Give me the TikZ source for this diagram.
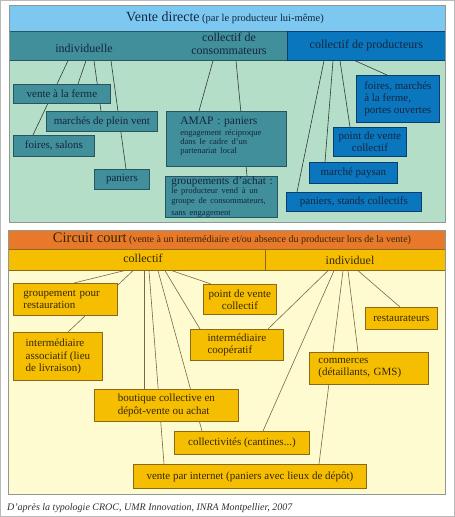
\documentclass[tikz,border=0pt]{standalone}
\usepackage{fontspec}
\setmainfont{Liberation Serif}
\pgfdeclarelayer{bg}\pgfdeclarelayer{mid}\pgfsetlayers{bg,mid,main}
\definecolor{ltblue}{RGB}{125,200,240}
\definecolor{tealc}{RGB}{64,143,155}
\definecolor{tealdark}{RGB}{40,85,95}
\definecolor{bluec}{RGB}{10,118,190}
\definecolor{bluedark}{RGB}{10,60,110}
\definecolor{greenbody}{RGB}{180,222,200}
\definecolor{orangec}{RGB}{232,120,42}
\definecolor{yellowc}{RGB}{245,190,0}
\definecolor{yellowbody}{RGB}{255,251,208}
\definecolor{browndark}{RGB}{140,105,25}
\definecolor{textnavy}{RGB}{22,38,62}
\definecolor{textbrown}{RGB}{55,40,5}
\definecolor{conTop}{RGB}{45,60,60}
\definecolor{conBot}{RGB}{120,105,70}
\definecolor{panelgray}{RGB}{145,150,150}
\definecolor{captiongray}{RGB}{50,50,50}
\begin{document}
\begin{tikzpicture}[x=1pt,y=-1pt,
  box/.style={draw, line width=0.8pt, inner sep=0pt, anchor=north west, font=\fontsize{11}{12.3}\selectfont},
  tbox/.style={box, fill=tealc, draw=tealdark, text=textnavy},
  bbox/.style={box, fill=bluec, draw=bluedark, text=textnavy},
  ybox/.style={box, fill=yellowc, draw=browndark, text=textbrown},
  hcell/.style={anchor=north west, inner sep=0pt, line width=0.7pt},
  htext/.style={inner sep=0pt, font=\fontsize{12}{13}\selectfont},
  tcon/.style={draw=conTop, line width=0.6pt},
  ycon/.style={draw=conBot, line width=0.6pt},
  panelline/.style={draw=panelgray, line width=0.9pt}]
\useasboundingbox (0,0) rectangle (455,517);
\begin{pgfonlayer}{bg}
  \fill[white] (0,0) rectangle (455,517);
  \draw[gray!55, line width=0.8pt] (0.5,0.5) rectangle (454.5,516.5);
  \fill[greenbody] (9,60) rectangle (445,222);
  \fill[ltblue] (9,5) rectangle (445,31);
  \fill[yellowbody] (8,270) rectangle (445,494);
  \fill[orangec] (8,230) rectangle (445,249);
\end{pgfonlayer}

% ---------- top panel ----------
\node[inner sep=0pt, text=textnavy] (title1) at (225,18)
  {{\fontsize{14}{16}\selectfont Vente directe} {\fontsize{10.5}{12}\selectfont (par le producteur lui-même)}};
\node[hcell, fill=tealc, draw=tealdark, minimum width=278pt, minimum height=29pt] (hT) at (9,31) {};
\node[hcell, fill=bluec, draw=bluedark, minimum width=158pt, minimum height=29pt,
      font=\fontsize{12}{13}\selectfont, text=textnavy] (hB) at (287,31) {collectif de producteurs};
\node[htext, text=textnavy] (tInd) at (84,48) {individuelle};
\node[htext, text=textnavy, align=center] (tCons) at (229,44) {collectif de\\consommateurs};

\node[tbox, minimum width=97pt, minimum height=19pt] (vf) at (13,84) {vente à la ferme};
\node[tbox, minimum width=111pt, minimum height=20pt] (mp) at (46,111) {marchés de plein vent};
\node[tbox, minimum width=81pt, minimum height=21pt] (fs) at (13,135) {foires, salons};
\node[tbox, minimum width=55pt, minimum height=20pt] (pa) at (94,169) {paniers};
\node[tbox, minimum height=55pt, text width=92pt, inner xsep=14pt, align=left] (amap) at (166,111)
  {{\fontsize{11.5}{13}\selectfont AMAP : paniers\par}\vspace{1pt}\fontsize{8.5}{9.3}\selectfont engagement réciproque\\dans le cadre d’un\\partenariat local\par\vspace{5pt}};
\node[tbox, minimum height=41pt, text width=108pt, inner xsep=2pt, align=left] (ga) at (165,176)
  {\hspace*{4pt}{\fontsize{11.2}{11.5}\selectfont groupements d’achat :\par}\fontsize{8.5}{9.3}\selectfont \hspace*{4pt}le producteur vend à un\\\hspace*{4pt}groupe de consommateurs,\\\hspace*{4pt}sans engagement};
\node[bbox, minimum width=83pt, minimum height=47pt, align=left, font=\fontsize{11}{12}\selectfont] (fm) at (356,75)
  {foires, marchés\\à la ferme,\\portes ouvertes};
\node[bbox, minimum width=73pt, minimum height=29pt, align=center, font=\fontsize{11}{12}\selectfont] (pv) at (333,127) {point de vente\\collectif};
\node[bbox, minimum width=88pt, minimum height=21pt] (mpy) at (309,162) {marché paysan};
\node[bbox, minimum width=135pt, minimum height=19pt] (psc) at (286,192) {paniers, stands collectifs};

\begin{pgfonlayer}{mid}
  \draw[tcon] ([xshift=59pt]hT.south west) -- ([xshift=20pt]fs.north west);
  \draw[tcon] ([xshift=77pt]hT.south west) -- ([xshift=65pt]vf.north west);
  \draw[tcon] ([xshift=85pt]hT.south west) -- ([xshift=55pt]mp.north west);
  \draw[tcon] ([xshift=102pt]hT.south west) -- ([xshift=32pt]pa.north west);
  \draw[tcon] ([xshift=204pt]hT.south west) -- ([xshift=33pt]amap.north west);
  \draw[tcon] ([xshift=227pt]hT.south west) -- ([xshift=82pt]ga.north west);
  \draw[tcon] ([xshift=68pt]hB.south west) -- ([xshift=31pt]fm.north west);
  \draw[tcon] ([xshift=53pt]hB.south west) -- ([xshift=17pt]pv.north west);
  \draw[tcon] ([xshift=46pt]hB.south west) -- ([xshift=16pt]mpy.north west);
  \draw[tcon] ([xshift=37pt]hB.south west) -- ([xshift=11pt]psc.north west);
\end{pgfonlayer}
\draw[panelline] (9,5) rectangle (445,222);

% ---------- bottom panel ----------
\node[inner sep=0pt, text=textbrown] (title2) at (232,239)
  {{\fontsize{14.5}{16}\selectfont Circuit court} {\fontsize{10}{12}\selectfont (vente à un intermédiaire et/ou absence du producteur lors de la vente)}};
\node[hcell, fill=yellowc, draw=browndark, minimum width=257pt, minimum height=21pt] (hC) at (8,249) {};
\node[hcell, fill=yellowc, draw=browndark, minimum width=180pt, minimum height=21pt] (hI) at (265,249) {};
\node[htext, text=textbrown] (tCol) at (143,258) {collectif};
\node[htext, text=textbrown] (tIndv) at (350,260) {individuel};

\node[ybox, minimum height=32pt, text width=84pt, inner xsep=10pt, align=left] (gr) at (13,283) {groupement pour\\restauration};
\node[ybox, minimum width=89pt, minimum height=48pt, align=left] (ia) at (13,332) {intermédiaire\\associatif (lieu\\de livraison)};
\node[ybox, minimum width=73pt, minimum height=30pt, align=center] (pvc) at (203,284) {point de vente\\collectif};
\node[ybox, minimum width=93pt, minimum height=31pt, align=left] (ic) at (190,329) {intermédiaire\\coopératif};
\node[ybox, minimum width=72pt, minimum height=22pt] (re) at (365,307) {restaurateurs};
\node[ybox, minimum height=32pt, text width=101pt, inner xsep=9pt, align=left] (co) at (309,352) {commerces\\(détaillants, GMS)};
\node[ybox, minimum width=144pt, minimum height=32pt, align=left] (bo) at (94,389) {boutique collective en\\dépôt-vente ou achat};
\node[ybox, minimum width=135pt, minimum height=23pt] (cl) at (174,431) {collectivités (cantines...)};
\node[ybox, minimum width=233pt, minimum height=24pt] (vi) at (133,464) {vente par internet (paniers avec lieux de dépôt)};

\begin{pgfonlayer}{mid}
  \draw[ycon] ([xshift=116pt]hC.south west) -- ([xshift=61pt]gr.north west);
  \draw[ycon] ([xshift=125pt]hC.south west) -- ([xshift=55pt]ia.north west);
  \draw[ycon] ([xshift=136pt]hC.south west) -- ([xshift=50pt]bo.north west);
  \draw[ycon] ([xshift=141pt]hC.south west) -- ([xshift=31pt]vi.north west);
  \draw[ycon] ([xshift=150pt]hC.south west) -- ([xshift=28pt]cl.north west);
  \draw[ycon] ([xshift=157pt]hC.south west) -- ([xshift=10pt]ic.north west);
  \draw[ycon] ([xshift=164pt]hC.south west) -- ([xshift=8pt]pvc.north west);
  \draw[ycon] ([xshift=63pt]hI.south west) -- ([xshift=78pt]ic.north west);
  \draw[ycon] ([xshift=69pt]hI.south west) -- ([xshift=89pt]cl.north west);
  \draw[ycon] ([xshift=78pt]hI.south west) -- ([xshift=186pt]vi.north west);
  \draw[ycon] ([xshift=83pt]hI.south west) -- ([xshift=49pt]co.north west);
  \draw[ycon] ([xshift=93pt]hI.south west) -- ([xshift=35pt]re.north west);
\end{pgfonlayer}
\draw[panelline] (8,230) rectangle (445,494);

\node[anchor=west, inner sep=0pt, text=captiongray, font=\fontsize{10}{12}\selectfont\itshape] (cap) at (7,508)
  {D’après la typologie CROC, UMR Innovation, INRA Montpellier, 2007};
\end{tikzpicture}
\end{document}
